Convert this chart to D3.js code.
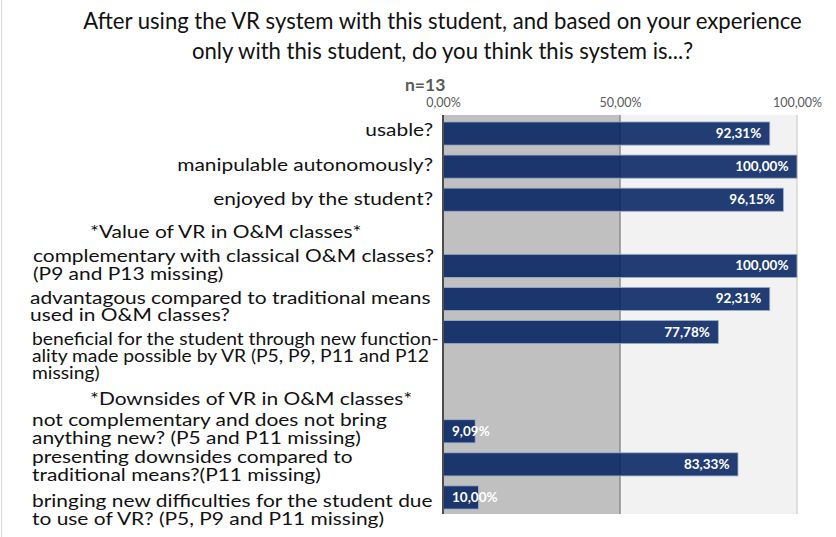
<!DOCTYPE html>
<html><head><meta charset="utf-8">
<script src="https://cdn.jsdelivr.net/npm/d3@7"></script>
<style>body{margin:0;background:#fff}svg{display:block}</style>
</head><body>
<svg id="chart" width="836" height="537"></svg>
<script>
// ---------------- DATA ----------------
const titleLines = [
  "After using the VR system with this student, and based on your experience",
  "only with this student, do you think this system is...?"
];
const sampleNote = "n=13";
const categories = [
  "usable?",
  "manipulable autonomously?",
  "enjoyed by the student?",
  "*Value of VR in O&M classes*",
  "complementary with classical O&M classes?\n(P9 and P13 missing)",
  "advantagous compared to traditional means\nused in O&M classes?",
  "beneficial for the student through new function-\nality made possible by VR (P5, P9, P11 and P12\nmissing)",
  "",
  "*Downsides of VR in O&M classes*",
  "not complementary and does not bring\nanything new? (P5 and P11 missing)",
  "presenting downsides compared to\ntraditional means?(P11 missing)",
  "bringing new difficulties for the student due\nto use of VR? (P5, P9 and P11 missing)"
];
const values = [92.31, 100, 96.15, null, 100, 92.31, 77.78, null, null, 9.09, 83.33, 10.00];
const tickValues = [0, 50, 100];
const tickLabels = ["0,00%", "50,00%", "100,00%"];

// ---------------- LAYOUT ----------------
const svg = d3.select("#chart");
const FONT = "Lato, 'Open Sans', sans-serif";
const plotTop = 115, plotBottom = 514;
const x = d3.scaleLinear().domain([0, 100]).range([443, 797]);
const y = d3.scaleBand().domain(d3.range(categories.length))
  .range([117, 514]).paddingInner(0.3).paddingOuter(0.15);

function measure(txt, size, weight) {
  const t = svg.append("text").attr("font-family", FONT).attr("font-size", size)
    .attr("font-weight", weight || "normal").text(txt);
  const w = t.node().getComputedTextLength();
  t.remove();
  return w;
}

// page left border
svg.append("line").attr("x1", 1.5).attr("x2", 1.5).attr("y1", 0).attr("y2", 537)
  .attr("stroke", "#d9d9d9").attr("stroke-width", 1);

// title
const titleSize = 23;
const titleStretch = 719 / measure(titleLines[0], titleSize);
svg.append("g").selectAll("text").data(titleLines).join("text")
  .attr("transform", (d, i) => `translate(442.5,${29 + i * 30}) scale(${titleStretch},1)`)
  .attr("text-anchor", "middle")
  .attr("font-family", FONT).attr("font-size", titleSize).attr("fill", "#111")
  .text(d => d);

// n=13
svg.append("text").attr("x", 405).attr("y", 91)
  .attr("font-family", FONT).attr("font-size", 17.5).attr("font-weight", "bold")
  .attr("fill", "#595959").text(sampleNote);

// background zones
svg.append("rect").attr("x", x(0)).attr("y", plotTop).attr("width", x(50) - x(0))
  .attr("height", plotBottom - plotTop).attr("fill", "#c0c0c0");
svg.append("rect").attr("x", x(50)).attr("y", plotTop).attr("width", x(100) - x(50))
  .attr("height", plotBottom - plotTop).attr("fill", "#f2f2f2");
svg.append("line").attr("x1", x(50)).attr("x2", x(50)).attr("y1", plotTop).attr("y2", plotBottom)
  .attr("stroke", "#8c8c8c").attr("stroke-width", 1.5);
svg.append("line").attr("x1", x(100)).attr("x2", x(100)).attr("y1", plotTop).attr("y2", plotBottom)
  .attr("stroke", "#c4c4c4").attr("stroke-width", 1);

// axis ticks (top)
const axis = d3.axisTop(x).tickValues(tickValues)
  .tickFormat((d, i) => tickLabels[i]).tickSize(0).tickPadding(3);
const ag = svg.append("g").attr("transform", "translate(0,110)").call(axis);
ag.select(".domain").remove();
ag.selectAll("text").attr("font-family", FONT).attr("font-size", 12.5).attr("fill", "#595959");

// bars
const barData = values.map((v, i) => ({ i, v })).filter(d => d.v !== null);
svg.append("g").selectAll("rect").data(barData).join("rect")
  .attr("x", x(0)).attr("y", d => y(d.i))
  .attr("width", d => x(d.v) - x(0)).attr("height", y.bandwidth())
  .attr("fill", "#002060").attr("fill-opacity", 0.86)
  .attr("stroke", "#9fb0d0").attr("stroke-width", 0.8);

// value labels
const fmt = v => d3.format(".2f")(v).replace(".", ",") + "%";
svg.append("g").selectAll("text").data(barData).join("text")
  .attr("x", d => d.v < 20 ? x(0) + 9 : x(d.v) - 8.5)
  .attr("y", d => y(d.i) + y.bandwidth() / 2 + 4.5)
  .attr("text-anchor", d => d.v < 20 ? "start" : "end")
  .attr("font-family", FONT).attr("font-size", 13.5).attr("font-weight", "bold")
  .attr("fill", "#fff").text(d => fmt(d.v));

// axis line at 0
svg.append("line").attr("x1", x(0)).attr("x2", x(0)).attr("y1", plotTop).attr("y2", plotBottom)
  .attr("stroke", "#4d4d4d").attr("stroke-width", 2);

// category labels (text boxes placed like the original slide)
const labelSize = 17;
const labelStretch = 256 / measure("manipulable autonomously?", labelSize);
const labelPos = [
  { a: "end",   x: 433, y: 136, g: 0,  s: 1 },
  { a: "end",   x: 433, y: 171, g: 0,  s: 1 },
  { a: "end",   x: 433, y: 205, g: 0,  s: 1 },
  { a: "start", x: 90,  y: 238, g: 0,  s: 1 },
  { a: "start", x: 33,  y: 262, g: 18, s: 1 },
  { a: "start", x: 30,  y: 304, g: 17, s: 1 },
  { a: "start", x: 32,  y: 345, g: 17, s: 0.92 },
  null,
  { a: "start", x: 90,  y: 405, g: 0,  s: 1 },
  { a: "start", x: 32,  y: 426, g: 18, s: 1 },
  { a: "start", x: 32,  y: 463, g: 18, s: 1 },
  { a: "start", x: 32,  y: 507, g: 18, s: 1 }
];
const lg = svg.append("g");
categories.forEach((c, i) => {
  if (!c || !labelPos[i]) return;
  const p = labelPos[i];
  c.split("\n").forEach((line, k) => {
    lg.append("text")
      .attr("transform", `translate(${p.x},${p.y + k * p.g}) scale(${labelStretch * p.s},1)`)
      .attr("text-anchor", p.a)
      .attr("font-family", FONT).attr("font-size", labelSize).attr("fill", "#111")
      .text(line);
  });
});
</script>
</body></html>
